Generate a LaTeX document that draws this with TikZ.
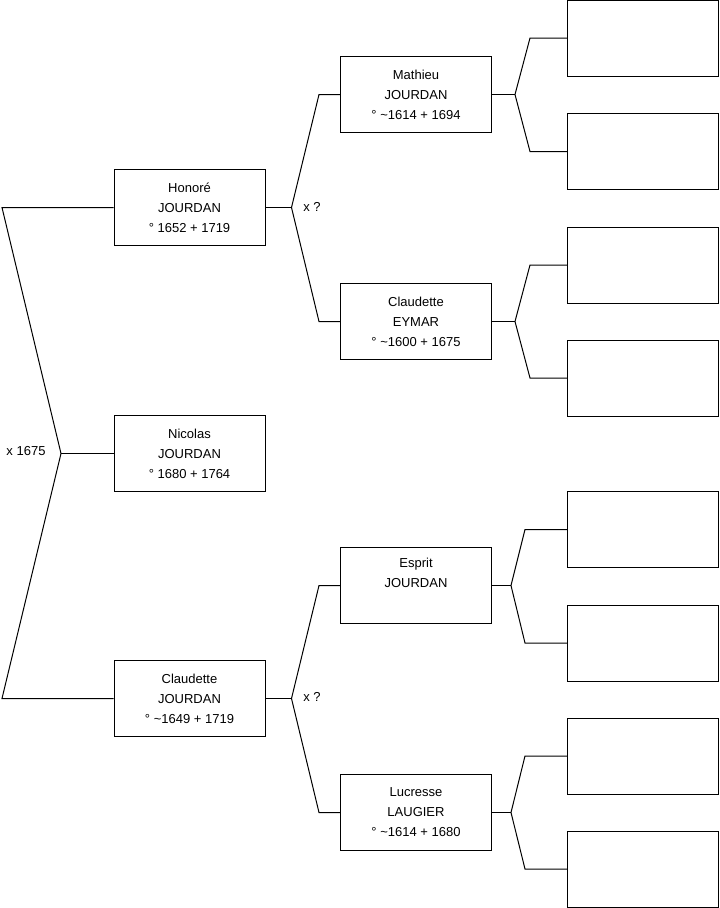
\documentclass[tikz,border=0pt]{standalone}
\usepackage{fontspec}
\setmainfont{Liberation Sans}
\begin{document}
\begin{tikzpicture}[x=0.75pt,y=-0.75pt,
  person/.style={draw, line width=0.75pt, minimum width=113.25pt, minimum height=57pt, inner sep=0pt, align=center, font=\fontsize{9.75}{15}\selectfont},
  link/.style={line width=0.75pt},
  lbl/.style={font=\fontsize{9.75}{12}\selectfont, inner sep=0pt}]
\useasboundingbox (0,0) rectangle (719,908);
% generation 1-2
\node[person] (hon) at (189.5,207.5) {Honoré\\JOURDAN\\° 1652 + 1719};
\node[person] (nic) at (189.5,453.5) {Nicolas\\JOURDAN\\° 1680 + 1764};
\node[person] (clj) at (189.5,698.5) {Claudette\\JOURDAN\\° \textasciitilde1649 + 1719};
% generation 3
\node[person] (mat) at (416,94.5) {Mathieu\\JOURDAN\\° \textasciitilde1614 + 1694};
\node[person] (eym) at (416,321.5) {Claudette\\EYMAR\\° \textasciitilde1600 + 1675};
\node[person] (esp) at (416,585.5) {Esprit\\JOURDAN\\\strut};
\node[person] (luc) at (416,812.5) {Lucresse\\LAUGIER\\° \textasciitilde1614 + 1680};
% generation 4 (empty)
\node[person] (r1) at (643,38) {};
\node[person] (r2) at (643,151.5) {};
\node[person] (r3) at (643,265) {};
\node[person] (r4) at (643,378) {};
\node[person] (r5) at (643,529.5) {};
\node[person] (r6) at (643,643) {};
\node[person] (r7) at (643,756) {};
\node[person] (r8) at (643,869) {};
% junction coordinates
\coordinate (a1) at (2,207.5);
\coordinate (a2) at (2,698.5);
\coordinate (j0) at (61,453.5);
\coordinate (jh) at (291.5,207.5);
\coordinate (jc) at (291.5,698.5);
\coordinate (jm) at (515,94.5);
\coordinate (je) at (515,321.5);
\coordinate (js) at (511,585.5);
\coordinate (jl) at (511,812.5);
% connectors
\draw[link] (hon.west) -- (a1) -- (j0) -- (a2) -- (clj.west);
\draw[link] (j0) -- (nic.west);
\draw[link] (hon.east) -- (jh);
\draw[link] (mat.west) -- (319,94.5) -- (jh) -- (319,321.5) -- (eym.west);
\draw[link] (clj.east) -- (jc);
\draw[link] (esp.west) -- (319,585.5) -- (jc) -- (319,812.5) -- (luc.west);
\draw[link] (mat.east) -- (jm);
\draw[link] (r1.west) -- (530,38) -- (jm) -- (530,151.5) -- (r2.west);
\draw[link] (eym.east) -- (je);
\draw[link] (r3.west) -- (530,265) -- (je) -- (530,378) -- (r4.west);
\draw[link] (esp.east) -- (js);
\draw[link] (r5.west) -- (525,529.5) -- (js) -- (525,643) -- (r6.west);
\draw[link] (luc.east) -- (jl);
\draw[link] (r7.west) -- (525,756) -- (jl) -- (525,869) -- (r8.west);
% labels
\node[lbl] (m0) at (26,451) {x 1675};
\node[lbl] (m1) at (312,207) {x ?};
\node[lbl] (m2) at (312,697) {x ?};
\end{tikzpicture}
\end{document}
